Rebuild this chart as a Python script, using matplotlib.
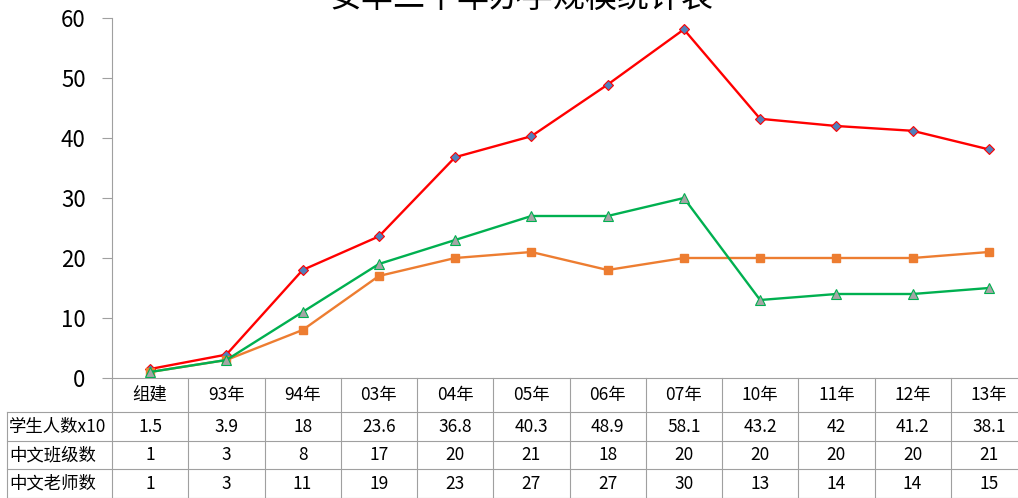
import matplotlib
matplotlib.use('Agg')
import matplotlib.pyplot as plt
import matplotlib.transforms as mtransforms

plt.rcParams['font.family'] = ['Noto Sans CJK SC', 'DejaVu Sans']

years = ['组建', '93年', '94年', '03年', '04年', '05年', '06年', '07年', '10年', '11年', '12年', '13年']
students = [1.5, 3.9, 18, 23.6, 36.8, 40.3, 48.9, 58.1, 43.2, 42, 41.2, 38.1]
classes = [1, 3, 8, 17, 20, 21, 18, 20, 20, 20, 20, 21]
teachers = [1, 3, 11, 19, 23, 27, 27, 30, 13, 14, 14, 15]
row_names = ['学生人数x10', '中文班级数', '中文老师数']
title = '安华二十年办学规模统计表'

W, H = 1018, 498
fig = plt.figure(figsize=(W / 100, H / 100), dpi=100)
# axes runs a bit past the right edge, like the original screenshot
ax = fig.add_axes([112 / W, (H - 378) / H, 915 / W, 360 / H])

x = list(range(len(years)))
ax.plot(x, students, color='#FF0000', lw=1.7, marker='D', ms=5,
        mfc='#4F81BD', mec='#FF0000', mew=0.8)
ax.plot(x, classes, color='#ED7D31', lw=1.7, marker='s', ms=6,
        mfc='#ED7D31', mec='#ED7D31')
ax.plot(x, teachers, color='#00B050', lw=1.7, marker='^', ms=6.5,
        mfc='#A5A5A5', mec='#00B050', mew=0.8)

ax.set_xlim(-0.5, len(years) - 0.5)
ax.set_ylim(0, 60)
ax.set_yticks(range(0, 61, 10))
ax.tick_params(axis='y', labelsize=16, length=7, color='#A0A0A0', pad=12)
ax.set_xticks([])
for s in ['top', 'right']:
    ax.spines[s].set_visible(False)
ax.spines['left'].set_color('#A0A0A0')
ax.spines['bottom'].set_color('#A0A0A0')
ax.spines['left'].set_bounds(0, 60)

fig.text(522 / W, 1 + 2 / H, title, fontsize=23, ha='center', va='center')

# data table below the plot
tr = mtransforms.blended_transform_factory(ax.transData, ax.transAxes)
gc = '#A0A0A0'
def fy(py):
    return (378 - py) / 360
def fx(px):
    return -0.5 + (px - 112) / 76.25

rows_y = [412, 441, 469, 498]
# left spine continues through table
ax.plot([-0.5, -0.5], [0, fy(500)], color=gc, lw=0.8, transform=tr, clip_on=False)
for i in range(1, len(years) + 1):
    xb = i - 0.5
    ax.plot([xb, xb], [0, fy(500)], color=gc, lw=0.8, transform=tr, clip_on=False)
for py in rows_y:
    ax.plot([fx(7), len(years) - 0.5], [fy(py), fy(py)], color=gc, lw=0.8,
            transform=tr, clip_on=False)
ax.plot([fx(7), fx(7)], [fy(412), fy(500)], color=gc, lw=0.8, transform=tr, clip_on=False)

fs = 12.5
for i, lab in enumerate(years):
    ax.text(i, fy(395), lab, fontsize=fs, ha='center', va='center', transform=tr)
centers = [426.5, 455, 483.5]
for r, (name, vals) in enumerate(zip(row_names, [students, classes, teachers])):
    ax.text(fx(9), fy(centers[r]), name, fontsize=fs, ha='left', va='center', transform=tr)
    for i, v in enumerate(vals):
        ax.text(i, fy(centers[r]), str(v), fontsize=fs, ha='center', va='center', transform=tr)

fig.savefig('out.png', dpi=100)
